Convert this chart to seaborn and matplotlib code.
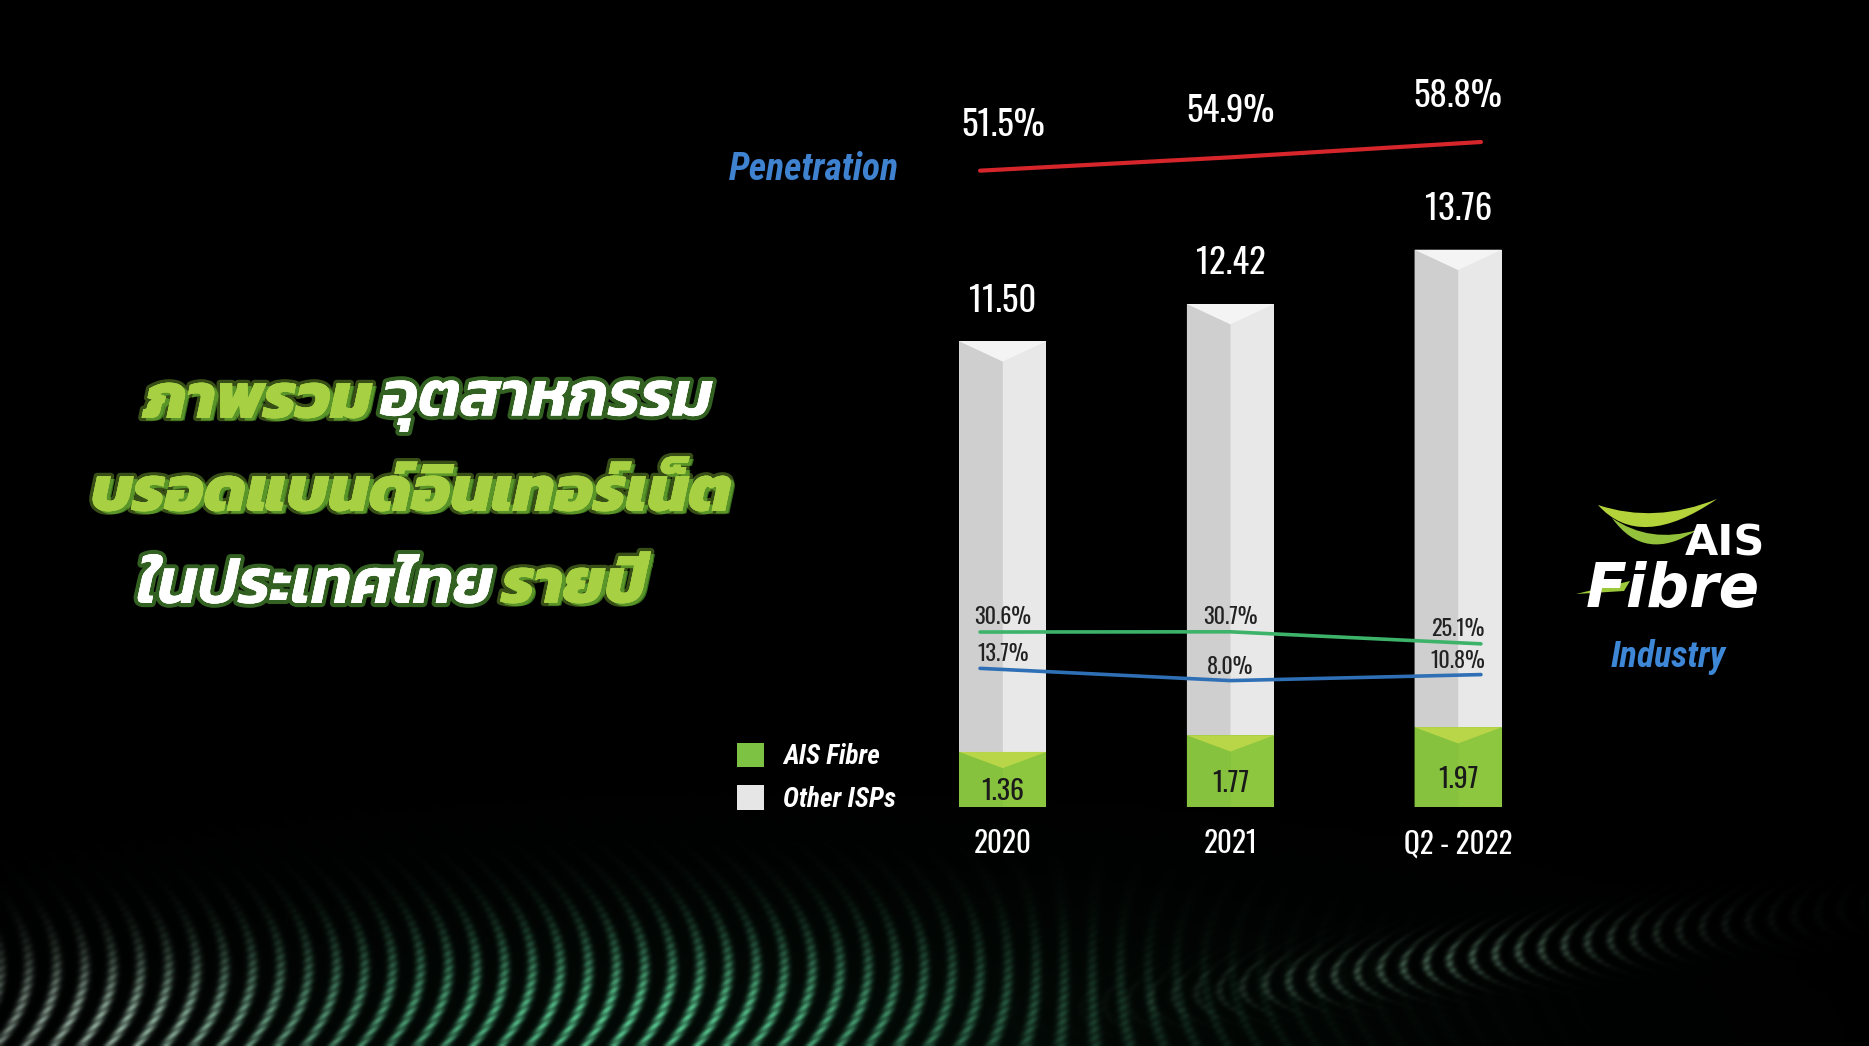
import numpy as np
import pandas as pd
import matplotlib
matplotlib.use("Agg")
import matplotlib.pyplot as plt
import seaborn as sns
from matplotlib.patches import Polygon, PathPatch, Patch
from matplotlib.path import Path
import matplotlib.patheffects as pe

# ---------------- data ----------------
categories = ["2020", "2021", "Q2 - 2022"]
total_subs = [11.50, 12.42, 13.76]          # million broadband subscribers (industry)
ais_fibre = [1.36, 1.77, 1.97]              # AIS Fibre subscribers
penetration = [51.5, 54.9, 58.8]            # household penetration %
green_share = [30.6, 30.7, 25.1]            # green line %
blue_share = [13.7, 8.0, 10.8]              # blue line %
legend_labels = ["AIS Fibre", "Other ISPs"]

df = pd.DataFrame({"period": categories, "total": total_subs, "ais": ais_fibre})

# ---------------- style ----------------
sns.set_theme(style="white")
NUM = ["Oswald", "Roboto Condensed", "DejaVu Sans"]
COND = ["Roboto Condensed", "DejaVu Sans"]
THAI = ["Kanit", "Noto Sans Thai", "DejaVu Sans"]
plt.rcParams["font.family"] = NUM

W, H = 1869, 1046
fig = plt.figure(figsize=(W / 100, H / 100), dpi=100, facecolor="black")

# ---------------- background (decorative wave texture) ----------------
bg = fig.add_axes([0, 0, 1, 1])
yy, xx = np.mgrid[0:H:2, 0:W:2].astype(float)


def g(cx, cy, sx, sy):
    return np.exp(-((xx - cx) / sx) ** 2 - ((yy - cy) / sy) ** 2)


dots = 0.8 + 0.2 * np.cos(2 * np.pi * (yy + 0.5 * xx) / 8)
bend = np.tanh((1080 - xx) / 150)
phase_c = (xx + 0.005 * bend * (yy - 965) ** 2) / 28
lines_c = (0.5 + 0.5 * np.cos(2 * np.pi * phase_c)) ** 3
yc_r = 985 - (xx - 1250) * 0.13
phase_r = (xx - 0.03 * (yy - yc_r) ** 2) / 23
lines_r = (0.5 + 0.5 * np.cos(2 * np.pi * phase_r)) ** 3
env_r = 0.55 * np.exp(-((xx - 1450) / 230) ** 2 - ((yy - yc_r) / 22) ** 2)

img = (lines_c * dots)[..., None] * (
    1.25 * g(640, 1020, 400, 80)[..., None] * np.array([0.28, 0.62, 0.45])
    + 0.75 * g(90, 1025, 200, 65)[..., None] * np.array([0.70, 0.74, 0.71])
)
img += (lines_r * dots * env_r)[..., None] * np.array([0.45, 0.62, 0.52])
img += (0.09 * g(800, 1046, 700, 170))[..., None] * np.array([0.12, 0.40, 0.25])
img = np.clip(img, 0, 1)
bg.imshow(img, extent=(0, W, H, 0), aspect="auto", interpolation="bilinear", zorder=0)
bg.set_xlim(0, W)
bg.set_ylim(H, 0)
bg.axis("off")

# ---------------- bars ----------------
BAR_W = 0.383
ax = fig.add_axes([889 / W, 239 / H, 683 / W, 789.75 / H])
ax.set_facecolor("none")
sns.barplot(data=df, x="period", y="total", color="#e8e8e8", width=BAR_W,
            saturation=1, linewidth=0, ax=ax, zorder=2)
sns.barplot(data=df, x="period", y="ais", color="#8dc63f", width=BAR_W,
            saturation=1, linewidth=0, ax=ax, zorder=3)
ax.set_xlim(-0.5, 2.5)
ax.set_ylim(0, 19.5)

grey_bars = ax.containers[0]
green_bars = ax.containers[1]
for i, (pg, pa) in enumerate(zip(grey_bars, green_bars)):
    x0, w = pg.get_x(), pg.get_width()
    xc, x1 = x0 + w / 2, x0 + w
    top, base = pg.get_height(), pa.get_height()
    d = 0.5
    ax.add_patch(Polygon([(x0, base), (xc, base), (xc, top - d), (x0, top)],
                         closed=True, fc="#cfcfcf", ec="none", zorder=2.5))
    ax.add_patch(Polygon([(x0, top), (x1, top), (xc, top - d)],
                         closed=True, fc="#f4f4f4", ec="none", zorder=2.6))
    dg = 0.4
    ax.add_patch(Polygon([(x0, 0), (xc, 0), (xc, base - dg), (x0, base)],
                         closed=True, fc="#86c23e", ec="none", zorder=3.5))
    ax.add_patch(Polygon([(x0, base), (x1, base), (xc, base - dg)],
                         closed=True, fc="#b9d649", ec="none", zorder=3.6))
    ax.text(xc, top + 1.0, f"{total_subs[i]:.2f}", ha="center", va="center",
            color="white", fontsize=25, zorder=5)
    ax.text(xc, base * 0.5 - 0.3, f"{ais_fibre[i]:.2f}", ha="center", va="center",
            color="#1a1a1a", fontsize=20, zorder=5)

sns.despine(ax=ax, left=True, bottom=True)
ax.set_yticks([])
ax.set_xlabel("")
ax.set_ylabel("")
ax.tick_params(axis="x", length=0, pad=16, labelcolor="white", labelsize=21)

# ---------------- lines ----------------
line_x = [-0.1, 1.0, 2.1]
ax_l = fig.add_axes(ax.get_position())
ax_l.set_facecolor("none")
sns.lineplot(x=line_x, y=green_share, color="#3db36a", linewidth=2.6, ax=ax_l, zorder=4)
sns.lineplot(x=line_x, y=blue_share, color="#2f6fb6", linewidth=2.6, ax=ax_l, zorder=4)
ax_l.set_xlim(-0.5, 2.5)
ax_l.set_ylim(-50.8, 316.6)
ax_l.axis("off")
for i in range(3):
    ax_l.annotate(f"{green_share[i]:.1f}%", (i, green_share[i]), xytext=(0, 11),
                  textcoords="offset points", ha="center", va="center",
                  color="#222222", fontsize=16, zorder=6)
    ax_l.annotate(f"{blue_share[i]:.1f}%", (i, blue_share[i]), xytext=(0, 10),
                  textcoords="offset points", ha="center", va="center",
                  color="#222222", fontsize=16, zorder=6)

ax_r = fig.add_axes(ax.get_position())
ax_r.set_facecolor("none")
sns.lineplot(x=line_x, y=penetration, color="#d6262c", linewidth=3, ax=ax_r, zorder=4)
ax_r.set_xlim(-0.5, 2.5)
ax_r.set_ylim(-110.5, 90.56)
ax_r.axis("off")
for i in range(3):
    ax_r.annotate(f"{penetration[i]:.1f}%", (i, penetration[i]), xytext=(0, 33),
                  textcoords="offset points", ha="center", va="center",
                  color="white", fontsize=25, zorder=6)

# ---------------- labels / legend ----------------
bg.text(814, 170, "Penetration", ha="center", va="center", color="#3e82d0",
        fontsize=27, fontstyle="italic", fontweight="bold", family=COND)

handles = [Patch(facecolor="#7dc242", edgecolor="none"),
           Patch(facecolor="#e6e6e6", edgecolor="none")]
fig.legend(handles, legend_labels, loc="upper left",
           bbox_to_anchor=(737 / W, 1 - 743 / H), frameon=False,
           borderpad=0, borderaxespad=0, handlelength=1.0, handleheight=1.0,
           handletextpad=0.7, labelspacing=0.55,
           prop={"style": "italic", "weight": "bold", "size": 19.5, "family": COND},
           labelcolor="white")

# ---------------- Thai title ----------------
green_fx = [pe.SimplePatchShadow(offset=(3, -2), shadow_rgbFace="#356d1c", alpha=1),
            pe.withStroke(linewidth=5, foreground=(0.62, 0.88, 0.25, 0.35)),
            pe.Normal()]
white_fx = [pe.withStroke(linewidth=6, foreground=(0.45, 0.85, 0.3, 0.45)),
            pe.Normal()]
GREEN_T = "#a8d043"
title_lines = [
    (428, 403, [("ภาพรวม", GREEN_T, green_fx, "heavy"),
                ("อุตสาหกรรม", "white", white_fx, "semibold")]),
    (411, 496, [("บรอดแบนด์อินเทอร์เน็ต", GREEN_T, green_fx, "heavy")]),
    (392, 588, [("ในประเทศไทย", "white", white_fx, "semibold"),
                ("รายปี", GREEN_T, green_fx, "heavy")]),
]
renderer = fig.canvas.get_renderer()
GAP = 9
for cx, cy, parts in title_lines:
    objs = [bg.text(0, cy, t, color=c, path_effects=f, va="center", ha="left",
                    fontsize=46, fontstyle="italic", fontweight=wt, family=THAI)
            for t, c, f, wt in parts]
    widths = [o.get_window_extent(renderer).width for o in objs]
    total_w = sum(widths) + GAP * (len(objs) - 1)
    x = cx - total_w / 2
    for o, wd in zip(objs, widths):
        o.set_x(x)
        x += wd + GAP

# ---------------- AIS Fibre logo ----------------
def crescent(p0, c_out, p1, c_in, color):
    verts = [p0, c_out, p1, c_in, p0, p0]
    codes = [Path.MOVETO, Path.CURVE3, Path.CURVE3, Path.CURVE3, Path.CURVE3, Path.CLOSEPOLY]
    bg.add_patch(PathPatch(Path(verts, codes), fc=color, ec="none", zorder=3))


crescent((1598, 505), (1640, 552), (1717, 499), (1655, 524), "#b4d33a")
crescent((1612, 518), (1645, 564), (1697, 530), (1650, 544), "#93c13b")
bg.add_patch(Polygon([(1576, 594), (1630, 581), (1624, 591)], closed=True,
                     fc="#9cc83c", ec="none", zorder=3))
bg.text(1725, 543, "AIS", ha="center", va="center", color="white",
        fontsize=31, fontweight="bold", family=["DejaVu Sans"])
bg.text(1673, 591, "Fibre", ha="center", va="center", color="white",
        fontsize=43, fontweight="bold", fontstyle="oblique", family=["DejaVu Sans"])
bg.text(1668, 657, "Industry", ha="center", va="center", color="#3d87d6",
        fontsize=26, fontweight="bold", fontstyle="italic", family=COND)

fig.savefig("out.png", dpi=100, facecolor="black")
